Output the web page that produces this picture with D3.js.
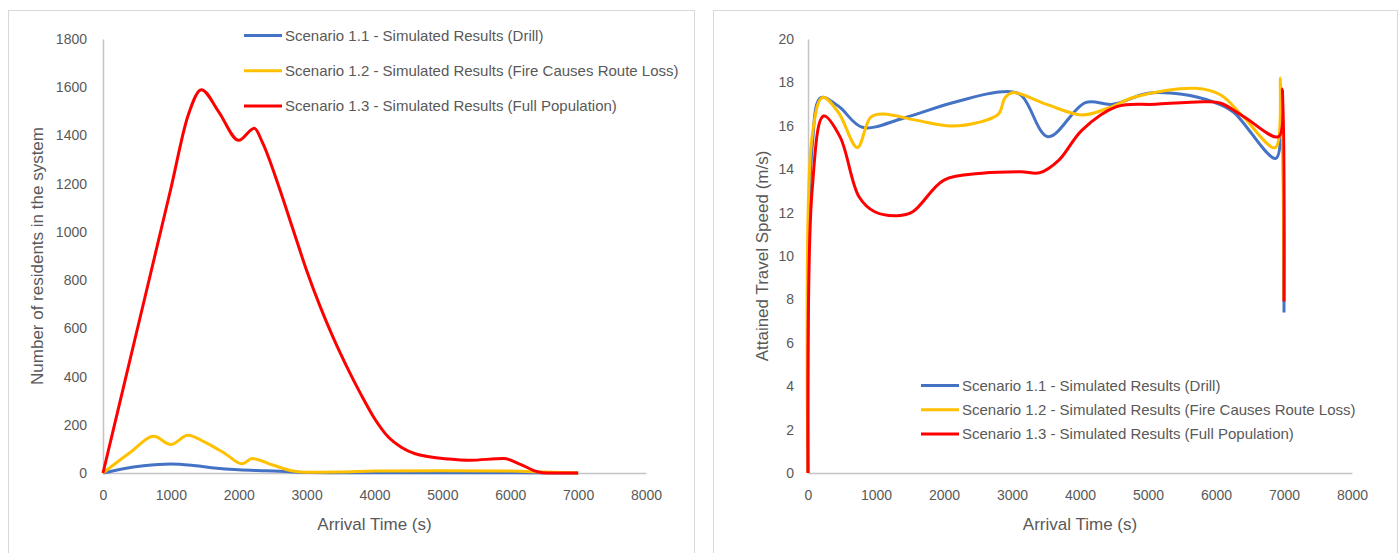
<!DOCTYPE html>
<html>
<head>
<meta charset="utf-8">
<script src="https://cdn.jsdelivr.net/npm/d3@7"></script>
<style>
  body { margin: 0; background: #fff; }
  svg { display: block; font-family: "Liberation Sans", Arial, sans-serif; }
</style>
</head>
<body>
<script>
// Series names (shared by both panels)
const seriesNames = [
  'Scenario 1.1 - Simulated Results (Drill)',
  'Scenario 1.2 - Simulated Results (Fire Causes Route Loss)',
  'Scenario 1.3 - Simulated Results (Full Population)'
];
const seriesColors = ['#4472C4', '#FFC000', '#FF0000'];

// Left panel: residents in the system vs arrival time  [time (s), count]
const drillCount = [[0, 0], [300, 18], [600, 30], [1000, 37], [1300, 32], [1600, 22], [2000, 13],
  [2400, 9], [2700, 6], [3000, 2], [3500, 1], [4500, 1], [6000, 1], [7000, 0]];
const fireCount = [[0, 0], [400, 85], [750, 152], [1000, 118], [1250, 157], [1500, 128], [1800, 80],
  [2050, 38], [2200, 60], [2500, 33], [2800, 8], [3000, 3], [3500, 4], [4000, 8], [5000, 9],
  [6000, 8], [6500, 4], [7000, 0]];
const fullCount = [[0, 0], [500, 590], [1000, 1180], [1250, 1480], [1450, 1590], [1700, 1500],
  [2000, 1380], [2230, 1430], [2350, 1370], [2600, 1180], [2800, 1010], [3000, 840], [3200, 690],
  [3400, 556], [3600, 436], [3800, 326], [4000, 226], [4200, 150], [4400, 106], [4600, 80],
  [5100, 58], [5400, 53], [5900, 60], [6150, 36], [6400, 5], [6550, 0], [7000, 0]];

// Right panel: attained travel speed vs arrival time  [time (s), speed]
const drillSpeed = [[0, 0], [60, 15], [190, 17.3], [450, 16.9], [800, 15.93], [1400, 16.35],
  [2100, 17.04], [2850, 17.57], [3130, 17.42], [3530, 15.5], [4080, 17.07], [4480, 16.99],
  [5000, 17.5], [5500, 17.45], [5950, 17.11], [6250, 16.65], [6880, 14.5], [6960, 17.2], [7000, 7.4]];
const fireSpeed = [[0, 0], [60, 15.5], [215, 17.31], [450, 16.6], [725, 15.0], [920, 16.39],
  [1100, 16.54], [1600, 16.25], [2100, 15.99], [2500, 16.15], [2800, 16.54], [2900, 17.3],
  [3020, 17.53], [3500, 17.0], [4030, 16.5], [4400, 16.8], [4820, 17.34], [5700, 17.73],
  [6070, 17.42], [6400, 16.42], [6870, 14.99], [6950, 18.2], [7000, 8.0]];
const fullSpeed = [[0, 0], [60, 13], [230, 16.45], [470, 15.5], [750, 12.73], [980, 12.04],
  [1320, 11.86], [1540, 12.04], [2000, 13.5], [2560, 13.81], [3130, 13.88], [3410, 13.84],
  [3690, 14.42], [4030, 15.8], [4540, 16.88], [5110, 16.99], [5840, 17.11], [6070, 17.04],
  [6410, 16.42], [6920, 15.5], [6980, 17.7], [7000, 7.9]];

// Tick values
const timeTicks = [0, 1000, 2000, 3000, 4000, 5000, 6000, 7000, 8000];
const countTicks = [0, 200, 400, 600, 800, 1000, 1200, 1400, 1600, 1800];
const speedTicks = [0, 2, 4, 6, 8, 10, 12, 14, 16, 18, 20];

const width = 1400;
const height = 553;
const textColor = '#595959';
const plain = d3.format('d');

const svg = d3.select('body')
  .append('svg')
  .attr('width', width)
  .attr('height', height);

function drawPanel(cfg) {
  // Panel frame
  svg.append('rect')
    .attr('x', cfg.frame[0] + 0.5)
    .attr('y', cfg.frame[1] + 0.5)
    .attr('width', cfg.frame[2])
    .attr('height', cfg.frame[3])
    .attr('fill', '#fff')
    .attr('stroke', '#d9d9d9');

  const xScale = d3.scaleLinear().domain([0, 8000]).range([cfg.left, cfg.right]);
  const yScale = d3.scaleLinear().domain([0, cfg.yMax]).range([cfg.bottom, cfg.top]);

  // Axes
  const xAxis = svg.append('g')
    .attr('transform', `translate(0, ${cfg.bottom})`)
    .call(d3.axisBottom(xScale).tickValues(timeTicks).tickFormat(plain).tickSize(0).tickPadding(17));
  const yAxis = svg.append('g')
    .attr('transform', `translate(${cfg.left}, 0)`)
    .call(d3.axisLeft(yScale).tickValues(cfg.yTicks).tickFormat(plain).tickSize(0).tickPadding(cfg.yPad));

  [xAxis, yAxis].forEach(ax => {
    ax.select('.domain').attr('stroke', '#c4c4c4').attr('stroke-width', 1.5);
    ax.selectAll('text')
      .attr('fill', textColor)
      .style('font-size', '14px')
      .style('font-family', '"Liberation Sans", Arial, sans-serif');
  });

  // Series lines (smoothed, like the spreadsheet's smoothed lines)
  const line = d3.line()
    .x(d => xScale(d[0]))
    .y(d => yScale(d[1]))
    .curve(cfg.curve);

  cfg.series.forEach((data, i) => {
    svg.append('path')
      .datum(data)
      .attr('d', line)
      .attr('fill', 'none')
      .attr('stroke', seriesColors[i])
      .attr('stroke-width', 3)
      .attr('stroke-linejoin', 'round');
  });

  // Axis titles
  svg.append('text')
    .attr('x', (cfg.left + cfg.right) / 2)
    .attr('y', 530)
    .attr('text-anchor', 'middle')
    .attr('fill', textColor)
    .style('font-size', '17px')
    .text('Arrival Time (s)');

  svg.append('text')
    .attr('transform', `translate(${cfg.yTitleX}, ${(cfg.top + cfg.bottom) / 2}) rotate(-90)`)
    .attr('text-anchor', 'middle')
    .attr('dy', '0.35em')
    .attr('fill', textColor)
    .style('font-size', '17px')
    .text(cfg.yTitle);

  // Legend
  const legend = svg.append('g')
    .attr('transform', `translate(${cfg.legend[0]}, ${cfg.legend[1]})`);
  seriesNames.forEach((name, i) => {
    const row = legend.append('g').attr('transform', `translate(0, ${i * cfg.legendGap})`);
    row.append('line')
      .attr('x1', 0).attr('x2', 38)
      .attr('stroke', seriesColors[i])
      .attr('stroke-width', 3);
    row.append('text')
      .attr('x', 41)
      .attr('dy', '0.35em')
      .attr('fill', textColor)
      .style('font-size', '15px')
      .text(name);
  });
}

drawPanel({
  frame: [8, 10, 686, 560],
  left: 103, right: 646, top: 39, bottom: 473,
  yMax: 1800, yTicks: countTicks, yPad: 16,
  yTitle: 'Number of residents in the system', yTitleX: 37,
  series: [drillCount, fireCount, fullCount],
  curve: d3.curveMonotoneX,
  legend: [244, 35.5], legendGap: 35.3
});

drawPanel({
  frame: [713, 10, 684, 560],
  left: 808, right: 1352, top: 39, bottom: 473,
  yMax: 20, yTicks: speedTicks, yPad: 14,
  yTitle: 'Attained Travel Speed (m/s)', yTitleX: 762,
  series: [drillSpeed, fireSpeed, fullSpeed],
  curve: d3.curveCatmullRom.alpha(0.5),
  legend: [921, 385.5], legendGap: 24.2
});
</script>
</body>
</html>
